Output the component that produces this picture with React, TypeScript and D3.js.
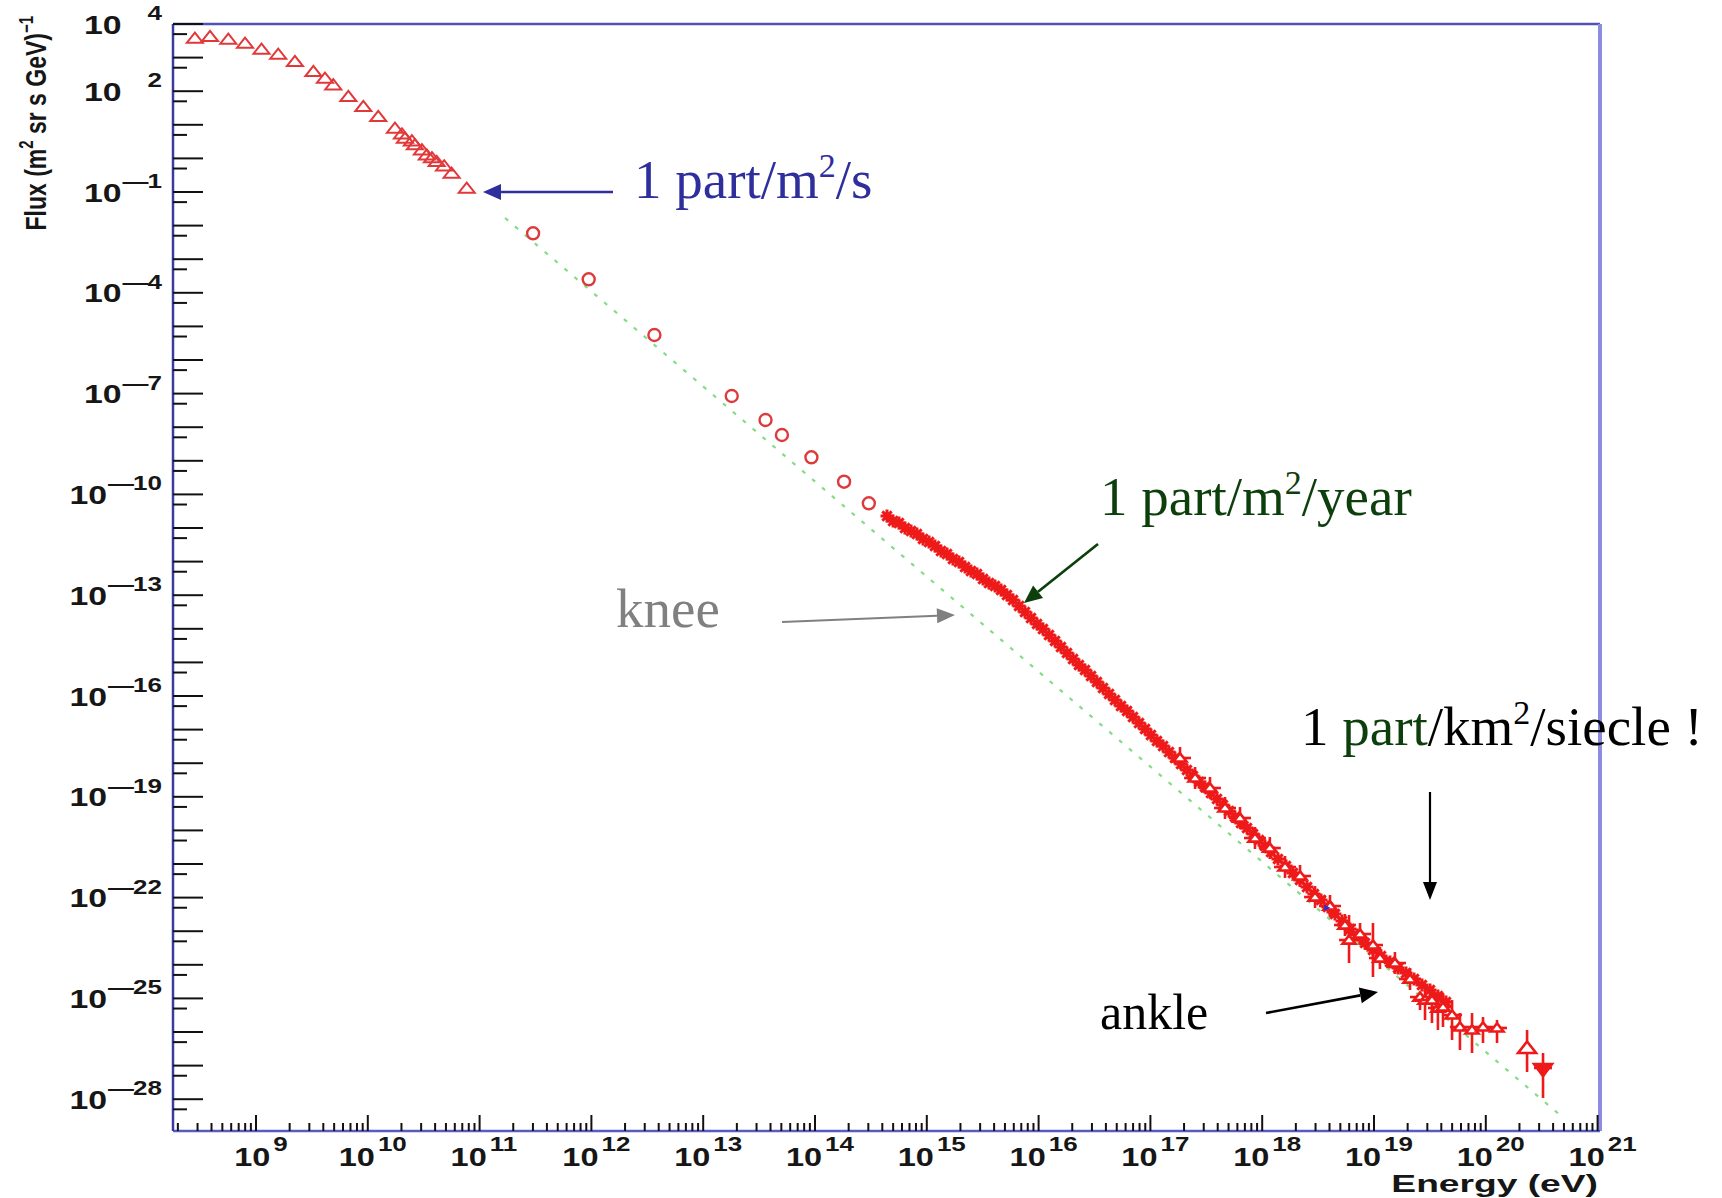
import React from 'react';
import * as d3 from 'd3';

// ---------- data ----------
// low energy: open triangles (E in eV, flux)
const triE = [2.84e8, 3.88e8, 5.65e8, 7.98e8, 1.12e9, 1.58e9, 2.23e9, 3.26e9, 4.14e9, 4.91e9, 6.70e9, 9.12e9, 1.24e10, 1.75e10, 2.02e10, 2.15e10, 2.48e10, 2.64e10, 3.05e10, 3.37e10, 3.75e10, 4.13e10, 4.81e10, 5.62e10, 7.67e10];
const triF = [3.75e3, 4.19e3, 3.51e3, 2.67e3, 1.77e3, 1.25e3, 755, 380, 242, 153, 68.5, 34.6, 17.4, 7.87, 5.32, 3.96, 3.30, 2.51, 1.78, 1.26, 1.03, 0.798, 0.594, 0.361, 0.129];

// direct measurements: open circles
const circE = [3.01e11, 9.46e11, 3.66e12, 1.80e13, 3.61e13, 5.06e13, 9.29e13, 1.82e14, 3.03e14];
const circF = [5.90e-3, 2.52e-4, 5.55e-6, 8.49e-8, 1.64e-8, 5.86e-9, 1.27e-9, 2.39e-10, 5.43e-11];

// air shower data: stars, given as log10(E / eV) and log10(flux)
const starLogE = [14.644, 14.698, 14.751, 14.805, 14.859, 14.912, 14.966, 15.020, 15.073, 15.127, 15.181, 15.234, 15.288, 15.342, 15.395, 15.449, 15.503, 15.556, 15.610, 15.664, 15.717, 15.771, 15.825, 15.878, 15.932, 15.986, 16.039, 16.093, 16.147, 16.200, 16.254, 16.308, 16.361, 16.415, 16.469, 16.522, 16.576, 16.630, 16.683, 16.737, 16.791, 16.844, 16.898, 16.952, 17.005, 17.059, 17.113, 17.166, 17.220, 17.274, 17.327, 17.381, 17.435, 17.488, 17.542, 17.596, 17.649, 17.703, 17.757, 17.810, 17.864, 17.918, 17.971, 18.025, 18.079, 18.141, 18.213, 18.275, 18.338, 18.401, 18.463, 18.526, 18.588, 18.651, 18.714, 18.785, 18.848, 18.919, 18.991, 19.063, 19.143, 19.215, 19.286, 19.358, 19.429, 19.501, 19.572, 19.644];
const starLogF = [-10.643, -10.792, -10.851, -11.000, -11.089, -11.179, -11.327, -11.417, -11.536, -11.685, -11.774, -11.923, -12.012, -12.161, -12.280, -12.369, -12.518, -12.637, -12.726, -12.845, -12.994, -13.143, -13.321, -13.500, -13.679, -13.857, -14.006, -14.185, -14.363, -14.542, -14.720, -14.899, -15.077, -15.226, -15.405, -15.583, -15.762, -15.940, -16.119, -16.298, -16.446, -16.625, -16.804, -16.982, -17.161, -17.339, -17.488, -17.667, -17.845, -18.024, -18.202, -18.381, -18.560, -18.708, -18.887, -19.065, -19.244, -19.423, -19.601, -19.780, -19.929, -20.107, -20.286, -20.464, -20.643, -20.851, -21.060, -21.268, -21.476, -21.685, -21.893, -22.071, -22.280, -22.488, -22.696, -22.935, -23.113, -23.351, -23.560, -23.738, -23.917, -24.095, -24.244, -24.423, -24.601, -24.750, -24.929, -25.107];

// high energy points with error crosses (E in eV, flux)
const crossE = [1.84e17, 2.51e17, 3.41e17, 4.65e17, 6.33e17, 8.62e17, 1.17e18, 1.60e18, 2.18e18, 2.97e18, 4.04e18, 5.50e18, 7.50e18, 1.13e19, 1.54e19, 2.10e19];
const crossF = [1.43e-18, 3.63e-19, 1.83e-19, 4.65e-20, 2.34e-20, 5.94e-21, 2.99e-21, 8.15e-22, 4.40e-22, 1.04e-22, 5.62e-23, 1.53e-23, 8.26e-24, 1.59e-24, 1.13e-24, 3.78e-25];

// ultra high energy points with error bars
const uheE = [5.98e18, 9.79e18, 2.58e19, 2.86e19, 3.30e19, 3.73e19, 4.14e19, 4.99e19, 5.87e19, 7.53e19, 9.44e19, 1.26e20];
const uheF = [5.47e-24, 3.88e-24, 1.10e-25, 8.95e-26, 8.95e-26, 5.18e-26, 5.55e-26, 3.21e-26, 1.41e-26, 1.15e-26, 1.41e-26, 1.32e-26];
const uheLo = [1.13e-24, 4.34e-25, 4.52e-26, 2.28e-26, 1.85e-26, 1.15e-26, 1.41e-26, 5.78e-27, 2.91e-27, 2.37e-27, 4.71e-27, 4.71e-27];
const uheHi = [3.03e-23, 1.75e-23, 1.45e-25, 1.78e-25, 1.45e-25, 1.26e-25, 1.45e-25, 8.95e-26, 3.67e-26, 3.67e-26, 2.79e-26, 2.28e-26];

// last two points
const lastTriE = [2.34e20];
const lastTriF = [3.34e-27];
const lastTriLo = [6.46e-28];
const lastTriHi = [1.15e-26];
const lastDownE = [3.25e20];
const lastDownF = [8.49e-28];
const lastDownLo = [1.09e-28];
const lastDownHi = [2.37e-27];

// stray blue marker
const blueE = [3.75e18];
const blueF = [5.0e-23];

// power-law reference line (green dotted)
const fitE = [1.69e11, 4.61e20];
const fitF = [1.68e-2, 3.39e-29];

// axis tick labels (exponents)
const yLabelExp = [4, 2, -1, -4, -7, -10, -13, -16, -19, -22, -25, -28];
const xLabelExp = [9, 10, 11, 12, 13, 14, 15, 16, 17, 18, 19, 20, 21];

// ---------- layout ----------
const W = 1722, H = 1198;
const X0 = 173, X1 = 1600, Y0 = 24, Y1 = 1131;
const RED = '#ee1a1a';
const AX = 'Liberation Sans, Arial, sans-serif';
const SERIF = 'Liberation Serif, Times New Roman, serif';

function Arrow({ x1, y1, x2, y2, color, w = 2.5, head = 17, hw = 7.5 }) {
  const a = Math.atan2(y2 - y1, x2 - x1);
  const bx = x2 - head * Math.cos(a), by = y2 - head * Math.sin(a);
  const px = -Math.sin(a) * hw, py = Math.cos(a) * hw;
  return (
    <g>
      <line x1={x1} y1={y1} x2={bx} y2={by} stroke={color} strokeWidth={w} />
      <polygon points={`${x2},${y2} ${bx + px},${by + py} ${bx - px},${by - py}`} fill={color} />
    </g>
  );
}

export default function App() {
  const x = d3.scaleLog().domain([Math.pow(10, 8.2576), Math.pow(10, 21.0215)]).range([X0, X1]);
  const y = d3.scaleLog().domain([1e4, Math.pow(10, -28.946)]).range([Y0, Y1]);

  const yTicks = [];
  for (let n = -28; n <= 4; n++) {
    yTicks.push({ v: Math.pow(10, n), len: 30 });
    yTicks.push({ v: 5 * Math.pow(10, n - 1), len: 14 });
  }
  const xTicks = [];
  for (let d = 8; d <= 21; d++) {
    for (let k = 1; k <= 9; k++) {
      const v = k * Math.pow(10, d);
      const lx = Math.log10(v);
      if (lx < 8.26 || lx > 21.02) continue;
      xTicks.push({ v, len: k === 1 ? 16 : 8 });
    }
  }

  const tri = (cx, cy, s = 8) => `M${cx},${cy - s * 0.72} L${cx + s},${cy + s * 0.55} L${cx - s},${cy + s * 0.55} Z`;
  const star = (cx, cy, s = 6.5) =>
    `M${cx - s},${cy} L${cx + s},${cy} M${cx},${cy - s} L${cx},${cy + s} M${cx - s * 0.72},${cy - s * 0.72} L${cx + s * 0.72},${cy + s * 0.72} M${cx - s * 0.72},${cy + s * 0.72} L${cx + s * 0.72},${cy - s * 0.72}`;

  return (
    <svg width={W} height={H} style={{ position: 'absolute', left: 0, top: 0, display: 'block', background: '#fff' }}>
      <rect x={0} y={0} width={W} height={H} fill="#fff" />

      {/* green power law */}
      <line x1={x(fitE[0])} y1={y(fitF[0])} x2={x(fitE[1])} y2={y(fitF[1])} stroke="#86dc86" strokeWidth={2.2} strokeDasharray="4 9" />

      {/* triangles */}
      {triE.map((e, i) => (
        <path key={'t' + i} d={tri(x(e), y(triF[i]))} fill="none" stroke="#e2383a" strokeWidth={2} />
      ))}
      {/* circles */}
      {circE.map((e, i) => (
        <circle key={'c' + i} cx={x(e)} cy={y(circF[i])} r={6} fill="none" stroke="#dd3a3c" strokeWidth={2.4} />
      ))}
      {/* stars */}
      {starLogE.map((le, i) => (
        <path key={'s' + i} d={star(x(Math.pow(10, le)), y(Math.pow(10, starLogF[i])))} stroke={RED} strokeWidth={3} />
      ))}
      {/* crosses */}
      {crossE.map((e, i) => {
        const cx = x(e), cy = y(crossF[i]);
        return (
          <g key={'x' + i} stroke={RED} strokeWidth={2.6}>
            <line x1={cx - 11} y1={cy} x2={cx + 11} y2={cy} />
            <line x1={cx} y1={cy - 11} x2={cx} y2={cy + 11} />
            <path d={tri(cx, cy, 6.5)} fill="#fff" />
          </g>
        );
      })}
      {/* UHE points with error bars */}
      {uheE.map((e, i) => {
        const cx = x(e), cy = y(uheF[i]);
        return (
          <g key={'u' + i} stroke={RED} strokeWidth={2.6}>
            <line x1={cx} y1={y(uheHi[i])} x2={cx} y2={y(uheLo[i])} />
            <line x1={cx - 10} y1={cy} x2={cx + 10} y2={cy} />
            <path d={tri(cx, cy, 6.5)} fill="#fff" />
          </g>
        );
      })}
      {lastTriE.map((e, i) => {
        const cx = x(e), cy = y(lastTriF[i]);
        return (
          <g key={'lt' + i} stroke={RED} strokeWidth={2.6}>
            <line x1={cx} y1={y(lastTriHi[i])} x2={cx} y2={y(lastTriLo[i])} />
            <path d={tri(cx, cy, 9)} fill="#fff" />
          </g>
        );
      })}
      {lastDownE.map((e, i) => {
        const cx = x(e), cy = y(lastDownF[i]);
        return (
          <g key={'ld' + i} stroke={RED} strokeWidth={2.6}>
            <line x1={cx} y1={y(lastDownHi[i])} x2={cx} y2={y(lastDownLo[i])} />
            <line x1={cx - 9} y1={cy} x2={cx + 9} y2={cy} />
            <path d={`M${cx - 9},${cy - 4} L${cx + 9},${cy - 4} L${cx},${cy + 8} Z`} fill={RED} />
          </g>
        );
      })}
      {blueE.map((e, i) => {
        const cx = x(e), cy = y(blueF[i]);
        return <path key={'b' + i} d={`M${cx - 2},${cy - 3} L${cx + 4},${cy} L${cx - 2},${cy + 3} Z`} fill="#2233dd" />;
      })}

      {/* frame */}
      <line x1={X0} y1={Y0} x2={X1} y2={Y0} stroke="#5252b4" strokeWidth={2.5} />
      <line x1={X1} y1={Y0} x2={X1} y2={Y1} stroke="#8c8ce0" strokeWidth={4} />
      <line x1={X0} y1={Y1} x2={X1} y2={Y1} stroke="#5a5ac2" strokeWidth={2.5} />
      <line x1={X0} y1={Y0} x2={X0} y2={Y1} stroke="#3c3ca0" strokeWidth={2.5} />

      {/* y ticks */}
      {yTicks.filter(t => y(t.v) >= Y0 - 0.5 && y(t.v) <= Y1).map((t, i) => (
        <line key={'yt' + i} x1={X0} y1={y(t.v)} x2={X0 + t.len} y2={y(t.v)} stroke="#111" strokeWidth={2} />
      ))}
      {/* x ticks */}
      {xTicks.map((t, i) => (
        <line key={'xt' + i} x1={x(t.v)} y1={Y1} x2={x(t.v)} y2={Y1 - t.len} stroke="#111" strokeWidth={2} />
      ))}

      {/* y labels */}
      {yLabelExp.map(e => {
        const ty = y(Math.pow(10, e));
        const digits = String(Math.abs(e));
        const right = 162;
        const expW = digits.length * 20 * 0.556 * 1.3;
        return (
          <g key={'yl' + e} fontFamily={AX} fontWeight="bold" fill="#161616">
            <text transform={`translate(${right - expW - 26},${ty + 9.5}) scale(1.3,1)`} textAnchor="end" fontSize={26}>10</text>
            {e < 0 && (
              <text transform={`translate(${right - expW + 1},${ty - 4}) scale(1.3,1)`} textAnchor="end" fontSize={20}>—</text>
            )}
            <text transform={`translate(${right},${ty - 4}) scale(1.3,1)`} textAnchor="end" fontSize={20}>{digits}</text>
          </g>
        );
      })}

      {/* x labels */}
      {xLabelExp.map(e => {
        const tx = x(Math.pow(10, e));
        const digits = String(e);
        const baseW = 26 * 1.112 * 1.25;
        const expW = digits.length * 20 * 0.556 * 1.3;
        const total = baseW + 3 + expW;
        const left = tx + 5 - total / 2;
        return (
          <g key={'xl' + e} fontFamily={AX} fontWeight="bold" fill="#161616">
            <text transform={`translate(${left},1166) scale(1.25,1)`} fontSize={26}>10</text>
            <text transform={`translate(${left + baseW + 3},1151) scale(1.3,1)`} fontSize={20}>{digits}</text>
          </g>
        );
      })}

      {/* axis titles */}
      <text transform="translate(1598,1192) scale(1.55,1)" textAnchor="end" fontFamily={AX} fontWeight="bold" fontSize={24} fill="#161616">Energy (eV)</text>
      <text transform="translate(46,16) scale(1.3,1) rotate(-90)" textAnchor="end" fontFamily={AX} fontWeight="bold" fontSize={23} fill="#161616">
        Flux (m<tspan fontSize={15} dy={-10}>2</tspan><tspan dy={10}> sr s GeV)</tspan><tspan fontSize={15} dy={-10}>−1</tspan>
      </text>

      {/* annotations */}
      <Arrow x1={613} y1={192} x2={483} y2={192} color="#2e2e9c" w={2.7} head={18} hw={8} />
      <text x={634} y={198} fontFamily={SERIF} fontSize={55} fill="#2e2e9c">
        1 part/m<tspan fontSize={34} dy={-21}>2</tspan><tspan dy={21}>/s</tspan>
      </text>

      <Arrow x1={1098} y1={544} x2={1024} y2={603} color="#0d3f0d" w={2.7} head={18} hw={8} />
      <text x={1100} y={515} fontFamily={SERIF} fontSize={55} fill="#0d3f0d">
        1 part/m<tspan fontSize={34} dy={-21}>2</tspan><tspan dy={21}>/year</tspan>
      </text>

      <Arrow x1={782} y1={622} x2={955} y2={615} color="#808080" w={2} head={18} hw={7.5} />
      <text x={616} y={627} fontFamily={SERIF} fontSize={55} fill="#808080">knee</text>

      <Arrow x1={1430} y1={792} x2={1430} y2={900} color="#000" w={2.2} head={18} hw={7} />
      <text x={1301} y={745} fontFamily={SERIF} fontSize={55} fill="#000">
        1 <tspan fill="#0d3f0d">part</tspan>/km<tspan fontSize={34} dy={-21}>2</tspan><tspan dy={21}>/siecle !</tspan>
      </text>

      <Arrow x1={1266} y1={1013} x2={1378} y2={992} color="#000" w={2.7} head={18} hw={8} />
      <text x={1100} y={1029} fontFamily={SERIF} fontSize={50} fill="#000">ankle</text>
    </svg>
  );
}
